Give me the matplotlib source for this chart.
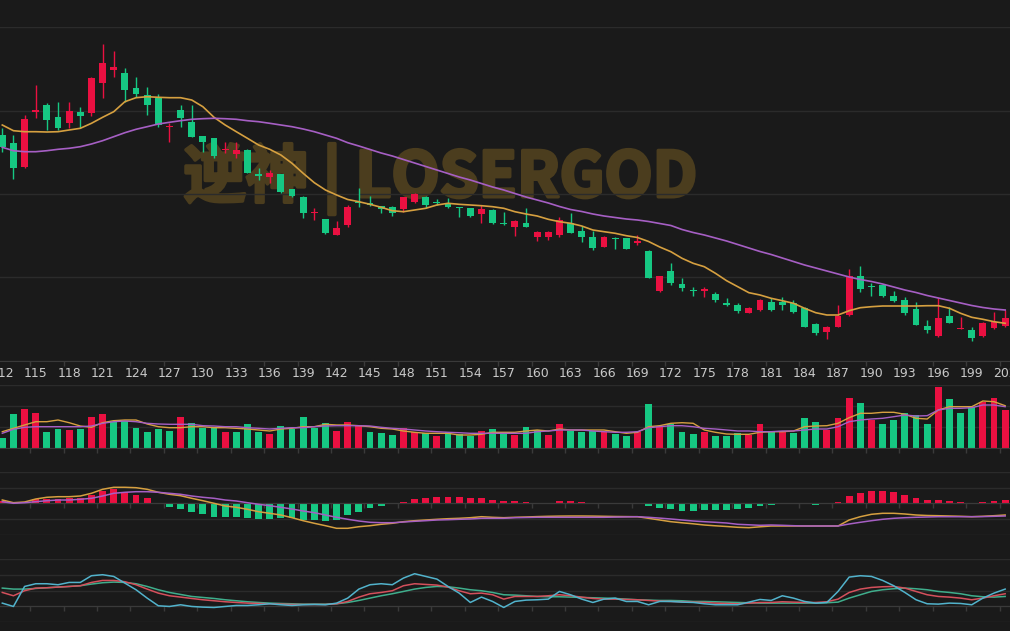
import numpy as np
import matplotlib
matplotlib.use('Agg')
import matplotlib.pyplot as plt
import matplotlib.patheffects as pe

plt.rcParams['font.family'] = ['DejaVu Sans']

# 交易日序号
days = np.arange(112, 203)

open_ = [26.50, 25.70, 23.30, 28.83, 29.50, 28.27, 27.73, 28.83, 28.67, 31.73,
         33.00, 32.73, 31.17, 30.50, 30.23, 27.27, 29.00, 27.83, 26.40, 26.17,
         25.00, 24.57, 25.00, 22.55, 22.33, 22.60, 21.07, 20.33, 18.67, 18.07,
         16.55, 17.55, 19.80, 19.67, 19.43, 19.27, 19.07, 19.83, 20.33, 19.83,
         19.60, 19.30, 19.17, 18.60, 19.00, 17.73, 17.33, 17.73, 16.33, 16.33,
         16.50, 17.73, 16.93, 16.33, 15.33, 16.23, 16.17, 15.75, 14.93, 10.93,
         12.93, 11.57, 11.00, 10.95, 10.60, 9.73, 9.50, 8.73, 9.00, 9.83,
         9.83, 9.73, 9.17, 7.60, 6.83, 7.33, 8.50, 12.43, 11.40, 11.50,
         10.43, 10.00, 9.07, 7.40, 6.40, 8.43, 7.10, 7.00, 6.40, 7.17, 7.43]
close = [25.30, 23.20, 28.10, 29.03, 28.00, 27.17, 28.93, 28.40, 32.17, 33.73,
         33.27, 31.00, 30.60, 29.50, 27.50, 27.40, 28.17, 26.33, 25.77, 24.40,
         25.13, 25.00, 22.73, 22.45, 22.73, 20.83, 20.43, 18.73, 18.80, 16.67,
         17.17, 19.33, 19.67, 19.50, 19.07, 18.67, 20.33, 20.57, 19.50, 19.70,
         19.27, 19.20, 18.40, 19.07, 17.67, 17.60, 17.93, 17.27, 16.77, 16.77,
         18.00, 16.73, 16.33, 15.17, 16.33, 16.10, 15.10, 15.90, 12.25, 12.40,
         11.67, 11.17, 10.87, 11.05, 10.00, 9.50, 8.93, 9.17, 10.00, 9.00,
         9.50, 8.83, 7.33, 6.67, 7.33, 8.40, 12.40, 11.07, 11.27, 10.40,
         9.93, 8.73, 7.50, 7.00, 8.17, 7.73, 7.23, 6.17, 7.67, 7.83, 8.17]
high = [27.20, 26.50, 28.50, 31.50, 29.70, 29.83, 29.83, 29.33, 32.33, 35.60,
        34.93, 33.17, 32.33, 31.33, 30.60, 27.67, 29.50, 29.50, 26.40, 26.20,
        25.83, 25.83, 25.07, 23.17, 23.00, 22.60, 21.07, 20.40, 19.17, 18.07,
        17.90, 19.50, 21.17, 20.40, 19.43, 19.40, 20.33, 20.67, 20.40, 20.07,
        20.17, 19.30, 19.17, 19.50, 19.07, 18.83, 18.00, 19.17, 16.90, 16.90,
        18.33, 18.73, 17.40, 16.93, 16.40, 16.33, 16.17, 16.50, 15.00, 12.43,
        13.67, 12.17, 11.33, 11.27, 10.83, 10.17, 9.73, 9.33, 10.07, 10.17,
        10.27, 10.00, 9.33, 7.67, 7.40, 9.50, 13.07, 13.40, 11.67, 11.60,
        10.93, 10.33, 9.83, 8.00, 10.17, 9.33, 8.27, 7.27, 7.83, 8.83, 9.00]
low = [24.80, 22.10, 23.20, 28.17, 27.00, 27.00, 27.17, 27.17, 28.40, 30.17,
       32.33, 29.83, 30.33, 28.50, 27.27, 25.83, 27.33, 26.33, 24.83, 24.17,
       24.67, 24.17, 22.67, 22.00, 21.67, 20.67, 20.33, 18.17, 18.00, 16.60,
       16.50, 17.33, 19.27, 19.40, 18.67, 18.43, 18.83, 19.67, 19.17, 19.50,
       19.17, 18.33, 18.27, 17.67, 17.60, 17.50, 16.40, 17.27, 15.93, 16.00,
       16.33, 16.73, 15.83, 15.00, 15.27, 15.07, 15.07, 15.50, 12.25, 10.83,
       11.50, 10.93, 10.40, 10.33, 9.83, 9.40, 8.73, 8.67, 8.93, 8.93,
       9.00, 8.73, 7.27, 6.50, 6.07, 7.27, 8.40, 10.83, 10.40, 10.33,
       9.83, 8.50, 7.50, 6.73, 6.33, 7.67, 7.07, 5.93, 6.33, 7.07, 7.33]

ma_fast = [27.50, 26.93, 26.83, 26.83, 26.80, 26.83, 27.00, 27.17, 27.67, 28.27,
           28.83, 29.83, 30.23, 30.33, 30.27, 30.23, 30.23, 30.00, 29.33, 28.27,
           27.50, 26.83, 26.17, 25.50, 25.07, 24.50, 23.67, 22.67, 21.73, 21.00,
           20.50, 20.05, 19.83, 19.57, 19.27, 18.93, 18.83, 19.00, 19.17, 19.50,
           19.67, 19.57, 19.50, 19.43, 19.33, 19.17, 18.83, 18.60, 18.40, 18.07,
           17.83, 17.67, 17.40, 17.00, 16.83, 16.67, 16.43, 16.25, 15.85, 15.30,
           14.83, 14.17, 13.67, 13.33, 12.67, 11.93, 11.33, 10.73, 10.50, 10.17,
           9.93, 9.67, 9.17, 8.73, 8.50, 8.50, 8.93, 9.23, 9.33, 9.40,
           9.40, 9.40, 9.40, 9.43, 9.43, 9.17, 8.67, 8.27, 8.07, 7.83, 7.67]
ma_slow = [25.27, 24.93, 24.83, 24.83, 24.93, 25.07, 25.17, 25.33, 25.60, 25.93,
           26.33, 26.73, 27.07, 27.33, 27.60, 27.77, 27.93, 28.07, 28.13, 28.17,
           28.13, 28.07, 27.93, 27.83, 27.67, 27.50, 27.33, 27.10, 26.83, 26.50,
           26.17, 25.73, 25.40, 25.05, 24.70, 24.40, 24.05, 23.70, 23.35, 23.00,
           22.65, 22.30, 22.00, 21.65, 21.30, 21.00, 20.65, 20.30, 20.00, 19.70,
           19.35, 19.05, 18.85, 18.60, 18.40, 18.25, 18.10, 18.00, 17.85, 17.65,
           17.45, 17.05, 16.75, 16.50, 16.20, 15.90, 15.55, 15.20, 14.85, 14.55,
           14.20, 13.85, 13.50, 13.20, 12.90, 12.60, 12.30, 12.05, 11.85, 11.60,
           11.30, 11.00, 10.75, 10.45, 10.20, 9.95, 9.70, 9.45, 9.25, 9.10, 9.00]

volume = [94, 334, 387, 344, 160, 187, 177, 184, 304, 334,
          260, 270, 194, 154, 187, 167, 304, 244, 194, 200,
          154, 154, 234, 154, 137, 220, 187, 310, 200, 244,
          170, 260, 227, 154, 144, 127, 200, 154, 144, 117,
          154, 137, 117, 170, 187, 144, 127, 210, 177, 127,
          234, 167, 160, 167, 154, 134, 117, 154, 434, 220,
          234, 160, 134, 154, 120, 120, 144, 127, 234, 160,
          167, 144, 294, 260, 177, 300, 494, 450, 277, 237,
          277, 344, 327, 234, 610, 484, 344, 410, 454, 494, 377]
vol_up = [0, 0, 1, 1, 0, 0, 1, 0, 1, 1,
          0, 0, 0, 0, 0, 0, 1, 0, 0, 0,
          1, 0, 0, 0, 1, 0, 0, 0, 0, 0,
          1, 1, 1, 0, 0, 0, 1, 1, 0, 1,
          0, 0, 0, 1, 0, 0, 1, 0, 0, 1,
          1, 0, 0, 0, 1, 0, 0, 1, 0, 1,
          0, 0, 0, 1, 0, 0, 0, 1, 1, 0,
          1, 0, 0, 0, 1, 1, 1, 0, 1, 0,
          0, 0, 0, 0, 1, 0, 0, 0, 1, 1, 1]
vol_ma_fast = [160, 194, 227, 260, 260, 277, 250, 217, 204, 250,
               270, 277, 277, 237, 210, 200, 200, 210, 210, 200,
               200, 194, 187, 177, 167, 187, 194, 210, 210, 234,
               227, 227, 220, 210, 194, 187, 167, 154, 144, 144,
               144, 127, 127, 134, 154, 154, 154, 167, 177, 167,
               187, 177, 177, 177, 177, 160, 144, 154, 210, 220,
               244, 250, 244, 177, 154, 137, 134, 134, 154, 160,
               160, 167, 210, 217, 220, 244, 300, 344, 344, 354,
               354, 334, 294, 287, 377, 410, 410, 410, 467, 460, 420]
vol_ma_slow = [144, 184, 204, 210, 210, 210, 210, 210, 217, 244,
               260, 267, 260, 244, 237, 234, 234, 234, 220, 217,
               210, 210, 200, 194, 187, 194, 200, 200, 210, 217,
               220, 220, 220, 217, 204, 194, 187, 177, 167, 160,
               154, 150, 144, 144, 144, 144, 144, 144, 160, 167,
               177, 177, 177, 167, 160, 154, 154, 160, 200, 210,
               220, 220, 210, 194, 187, 177, 167, 167, 160, 160,
               167, 167, 177, 187, 187, 210, 260, 277, 287, 294,
               310, 327, 317, 320, 377, 394, 394, 400, 427, 427, 410]

dif = [0.33, 0.06, 0.13, 0.43, 0.60, 0.66, 0.66, 0.73, 1.00, 1.40,
       1.60, 1.60, 1.56, 1.40, 1.10, 0.90, 0.76, 0.50, 0.26, 0.00,
       -0.27, -0.40, -0.60, -0.84, -1.00, -1.17, -1.44, -1.74, -2.00, -2.24,
       -2.50, -2.50, -2.34, -2.24, -2.10, -2.00, -1.84, -1.74, -1.67, -1.60,
       -1.54, -1.50, -1.44, -1.34, -1.40, -1.44, -1.40, -1.37, -1.33, -1.30,
       -1.28, -1.27, -1.27, -1.28, -1.30, -1.32, -1.33, -1.34, -1.50, -1.67,
       -1.84, -1.95, -2.05, -2.17, -2.25, -2.32, -2.40, -2.44, -2.35, -2.27,
       -2.27, -2.27, -2.27, -2.27, -2.27, -2.27, -1.67, -1.34, -1.10, -1.00,
       -1.00, -1.07, -1.17, -1.22, -1.24, -1.27, -1.30, -1.34, -1.30, -1.24, -1.17]
dea = [0.16, 0.00, 0.06, 0.16, 0.26, 0.33, 0.33, 0.40, 0.50, 0.73,
       1.00, 1.10, 1.16, 1.16, 1.10, 1.00, 0.90, 0.73, 0.60, 0.50,
       0.33, 0.23, 0.06, -0.10, -0.24, -0.40, -0.57, -0.77, -0.94, -1.17,
       -1.40, -1.60, -1.77, -1.90, -1.94, -1.94, -1.87, -1.80, -1.74, -1.67,
       -1.64, -1.60, -1.57, -1.50, -1.50, -1.50, -1.44, -1.42, -1.40, -1.40,
       -1.40, -1.40, -1.40, -1.40, -1.40, -1.38, -1.36, -1.34, -1.40, -1.48,
       -1.57, -1.67, -1.77, -1.84, -1.90, -1.97, -2.10, -2.15, -2.20, -2.17,
       -2.20, -2.24, -2.27, -2.27, -2.27, -2.27, -2.07, -1.90, -1.74, -1.60,
       -1.50, -1.44, -1.40, -1.37, -1.34, -1.34, -1.34, -1.34, -1.33, -1.30, -1.27]
macd_bar = [0.26, 0.10, 0.16, 0.40, 0.46, 0.46, 0.50, 0.50, 0.83, 1.26,
            1.40, 1.10, 0.83, 0.50, -0.03, -0.40, -0.60, -0.90, -1.07, -1.34,
            -1.34, -1.34, -1.50, -1.57, -1.57, -1.50, -1.50, -1.67, -1.67, -1.77,
            -1.67, -1.17, -0.84, -0.50, -0.24, -0.10, 0.16, 0.43, 0.50, 0.60,
            0.60, 0.60, 0.50, 0.50, 0.33, 0.26, 0.26, 0.16, 0.06, -0.02,
            0.23, 0.23, 0.10, -0.03, -0.03, 0.06, 0.03, 0.03, -0.27, -0.44,
            -0.60, -0.74, -0.74, -0.67, -0.67, -0.67, -0.60, -0.50, -0.27, -0.17,
            -0.03, -0.03, -0.10, -0.13, -0.10, 0.10, 0.76, 1.06, 1.23, 1.23,
            1.10, 0.83, 0.56, 0.33, 0.30, 0.23, 0.16, 0.03, 0.10, 0.23, 0.33]

k_line = [28.0, 21.4, 31.4, 36.7, 37.4, 38.7, 40.0, 41.4, 48.0, 52.0,
          52.0, 49.4, 43.4, 34.7, 26.7, 21.4, 18.7, 16.0, 13.4, 11.4,
          9.4, 8.0, 6.7, 6.0, 5.4, 4.7, 4.0, 4.0, 4.0, 4.0,
          5.4, 10.0, 18.7, 25.4, 28.0, 31.4, 41.4, 45.4, 44.0, 42.7,
          38.7, 31.4, 25.4, 26.7, 23.4, 14.7, 20.0, 20.0, 20.0, 21.4,
          23.4, 21.4, 18.7, 16.0, 14.7, 14.7, 14.0, 13.4, 12.0, 10.7,
          10.0, 9.4, 8.7, 8.0, 6.7, 6.0, 5.4, 6.7, 8.0, 8.0,
          9.4, 8.7, 8.0, 8.0, 9.4, 14.7, 28.0, 34.7, 38.0, 39.4,
          40.0, 36.7, 30.0, 23.4, 20.0, 18.7, 16.7, 13.4, 16.7, 21.4, 25.4]
d_line = [36.7, 34.7, 34.7, 36.0, 37.4, 38.7, 40.0, 41.4, 44.7, 47.4,
          48.7, 48.0, 45.4, 40.0, 33.4, 28.0, 24.0, 20.0, 18.0, 16.0,
          13.4, 11.4, 9.4, 8.0, 6.7, 6.0, 5.4, 4.7, 4.7, 4.7,
          5.4, 8.0, 12.0, 16.7, 21.4, 25.4, 30.0, 34.7, 38.0, 40.0,
          39.4, 36.7, 33.4, 31.4, 28.0, 23.4, 22.7, 21.4, 20.0, 19.4,
          19.4, 18.7, 18.0, 17.4, 16.7, 16.0, 14.7, 13.4, 12.7, 12.0,
          12.0, 11.4, 10.0, 10.0, 9.4, 8.7, 8.0, 7.4, 6.7, 6.7,
          6.7, 6.7, 6.7, 6.7, 7.4, 8.7, 16.7, 23.4, 30.0, 33.4,
          35.4, 36.7, 35.4, 33.4, 30.0, 28.0, 25.4, 21.4, 19.4, 18.7, 20.0]
j_line = [6.7, 0.0, 40.0, 45.4, 45.4, 43.4, 48.0, 48.0, 61.4, 63.4,
          60.0, 46.7, 33.4, 16.7, 1.4, 0.0, 3.4, 0.0, -1.3, -2.0,
          0.0, 2.0, 2.0, 3.4, 5.4, 3.4, 2.0, 3.4, 4.0, 3.4,
          6.7, 16.7, 34.7, 43.4, 45.4, 43.4, 56.7, 65.4, 60.0, 54.7,
          40.0, 26.7, 8.0, 18.7, 10.0, -2.0, 10.0, 12.7, 13.4, 14.7,
          30.0, 23.4, 14.7, 8.0, 14.7, 16.7, 10.0, 10.0, 3.4, 10.0,
          10.0, 8.7, 8.0, 5.4, 3.4, 3.4, 3.4, 8.7, 14.0, 12.0,
          21.4, 16.7, 10.0, 6.7, 8.0, 30.0, 58.7, 61.4, 60.0, 52.0,
          41.4, 28.0, 13.4, 5.4, 4.7, 6.7, 6.0, 3.4, 16.7, 26.7, 34.7]

# 颜色
bg = '#1a1a1a'
grid_c = '#2b2b2b'
axis_c = '#3a3a3a'
up_c = '#ea1041'
down_c = '#16c883'
ma1_c = '#d6a040'
ma2_c = '#a65fc4'
wm_c = '#4b3d1e'

W, H = 1010, 631
fig = plt.figure(figsize=(W / 100, H / 100), dpi=100, facecolor=bg)

# 每根K线 11.14px, 112 在 x=2.3px
xmin = 112 - 2.3 / 11.143
xmax = xmin + W / 11.143
label_days = np.arange(112, 203, 3)
bounds = np.arange(115, 204, 3) - 0.5


def panel(top_px, bot_px):
    ax = fig.add_axes([0, 1 - bot_px / H, 1, (bot_px - top_px) / H])
    ax.set_facecolor('none')
    ax.set_xlim(xmin, xmax)
    for s in ['top', 'left', 'right']:
        ax.spines[s].set_visible(False)
    ax.spines['bottom'].set_color(axis_c)
    ax.tick_params(axis='y', length=0, labelleft=False)
    ax.yaxis.grid(True, color=grid_c, lw=1)
    ax.set_axisbelow(True)
    ax.set_xticks(bounds, minor=True)
    ax.set_xticks([])
    ax.tick_params(axis='x', which='minor', length=3.5, color=axis_c, width=1)
    return ax


# 主图 K线
ax1 = panel(27.3, 360.5)
ax1.set_ylim(3.95, 37.27)
ax1.set_yticks(np.linspace(3.95, 37.27, 5))
ax1.text(0.436, 0.545, '逆神 | LOSERGOD', transform=ax1.transAxes, ha='center', va='center',
         fontsize=45, fontweight='bold', color=wm_c, zorder=0,
         family=['Noto Sans CJK SC', 'DejaVu Sans'],
         path_effects=[pe.withStroke(linewidth=2.5, foreground=wm_c)])
cols = [up_c if c >= o else down_c for o, c in zip(open_, close)]
ax1.vlines(days, low, high, colors=cols, lw=1.0, zorder=2)
body = [max(abs(c - o), 0.12) for o, c in zip(open_, close)]
ax1.bar(days, body, bottom=np.minimum(open_, close), width=0.62, color=cols, lw=0, zorder=3)
ax1.plot(days, ma_fast, color=ma1_c, lw=1.2, zorder=4)
ax1.plot(days, ma_slow, color=ma2_c, lw=1.2, zorder=4)
ax1.set_xticks(label_days)
ax1.set_xticklabels([str(d) for d in label_days])
ax1.tick_params(axis='x', which='major', length=0, pad=5, labelsize=9, labelcolor='#c9c9c9')

# 成交量
ax2 = panel(384.5, 447.7)
ax2.set_ylim(0, 632)
ax2.set_yticks(np.linspace(0, 632, 4))
vcols = [up_c if u else down_c for u in vol_up]
ax2.bar(days, volume, width=0.62, color=vcols, lw=0, zorder=2)
ax2.plot(days, vol_ma_fast, color=ma1_c, lw=1.0, zorder=3)
ax2.plot(days, vol_ma_slow, color=ma2_c, lw=1.0, zorder=3)

# MACD
ax3 = panel(472.1, 534.5)
ax3.set_ylim(-3.12, 3.12)
ax3.set_yticks(np.linspace(-3.12, 3.12, 5))
ax3.spines['bottom'].set_position(('data', 0))
mcols = [up_c if v >= 0 else down_c for v in macd_bar]
ax3.bar(days, macd_bar, width=0.62, color=mcols, lw=0, zorder=2)
ax3.plot(days, dif, color=ma1_c, lw=1.1, zorder=3)
ax3.plot(days, dea, color=ma2_c, lw=1.1, zorder=3)

# KDJ
ax4 = panel(559.0, 622.3)
ax4.set_ylim(-31.6, 94.8)
ax4.set_yticks(np.linspace(-31.6, 94.8, 5))
ax4.spines['bottom'].set_position(('data', 0))
ax4.plot(days, d_line, color='#3fae8c', lw=1.1, zorder=3)
ax4.plot(days, k_line, color='#d4505c', lw=1.1, zorder=3)
ax4.plot(days, j_line, color='#52b3cc', lw=1.1, zorder=4)

fig.savefig('out.png', dpi=100, facecolor=bg)
